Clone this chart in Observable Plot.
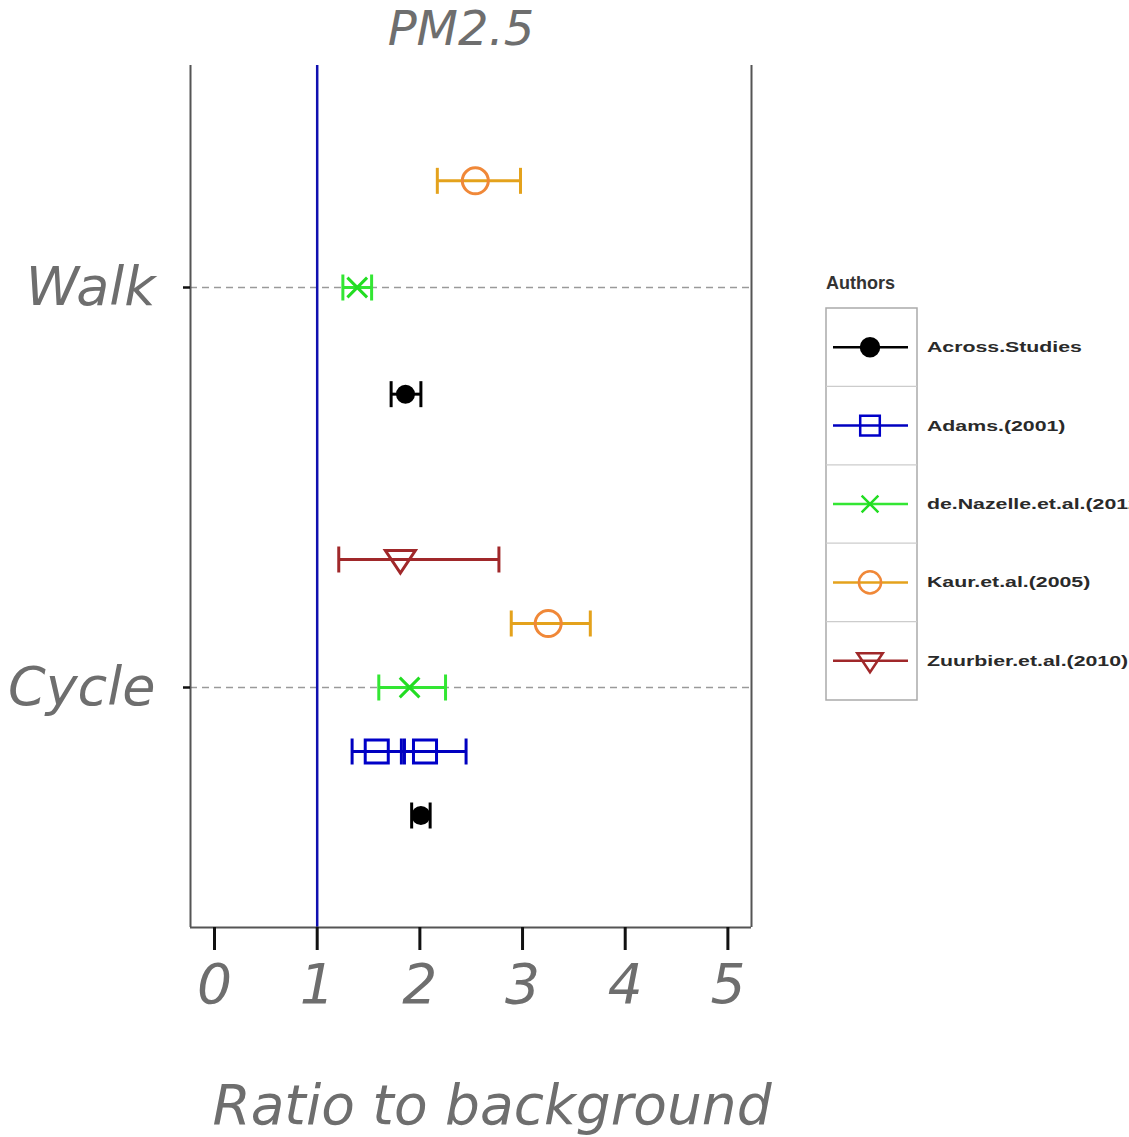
<!DOCTYPE html>
<html><head><meta charset="utf-8">
<script src="https://cdn.jsdelivr.net/npm/d3@7"></script>
<script src="https://cdn.jsdelivr.net/npm/@observablehq/plot@0.6"></script>
<style>
body{margin:0;background:#fff;overflow:hidden}
#wrap{position:relative;width:1129px;height:1137px;overflow:hidden}
#wrap svg{position:absolute;left:0;top:0;overflow:visible}
</style></head><body><div id="wrap"></div>
<script>
// ---- data ----
const modes = ["Walk", "Cycle"];
const modeValues = [2, 1];
const authors = ["Across.Studies", "Adams.(2001)", "de.Nazelle.et.al.(2012)", "Kaur.et.al.(2005)", "Zuurbier.et.al.(2010)"];
const authorLineColors = ["#000000", "#0000c0", "#33e633", "#e4a21c", "#a0282a"];
const authorMarkerColors = ["#000000", "#0000c8", "#22dd22", "#f08838", "#a0282a"];

const pointMode   = ["Walk", "Walk", "Walk", "Cycle", "Cycle", "Cycle", "Cycle", "Cycle", "Cycle"];
const pointAuthor = ["Kaur.et.al.(2005)", "de.Nazelle.et.al.(2012)", "Across.Studies",
                     "Zuurbier.et.al.(2010)", "Kaur.et.al.(2005)", "de.Nazelle.et.al.(2012)", "Adams.(2001)", "Adams.(2001)", "Across.Studies"];
const ratio = [2.54, 1.39, 1.86, 1.81, 3.25, 1.90, 1.58, 2.05, 2.01];
const lower = [2.17, 1.25, 1.72, 1.21, 2.89, 1.60, 1.34, 1.82, 1.92];
const upper = [2.98, 1.53, 2.01, 2.77, 3.66, 2.25, 1.85, 2.45, 2.10];

const xTicks = [0, 1, 2, 3, 4, 5];
const xTickLabels = ["0", "1", "2", "3", "4", "5"];
const xDomain = [-0.234, 5.23];
const yDomain = [0.4, 2.555];
const dodgeWidth = 0.8;

// ---- build table with dodge positions ----
const rows = ratio.map((r, i) => ({mode: pointMode[i], author: pointAuthor[i], ratio: r, lower: lower[i], upper: upper[i]}));
for (const m of modes) {
  const groupAuthors = authors.filter(a => rows.some(d => d.mode === m && d.author === a));
  const n = groupAuthors.length;
  const base = modeValues[modes.indexOf(m)];
  rows.filter(d => d.mode === m).forEach(d => {
    const k = groupAuthors.indexOf(d.author);
    d.pos = base + (k - (n - 1) / 2) * dodgeWidth / n;
  });
}
const lineColor = a => authorLineColors[authors.indexOf(a)];
const markerColor = a => authorMarkerColors[authors.indexOf(a)];

// ---- custom symbols ----
const vbar = {draw(ctx, size) { const h = Math.sqrt(size / Math.PI); ctx.moveTo(0, -h); ctx.lineTo(0, h); }};
const triDown = {draw(ctx, size) { const r = Math.sqrt(size / Math.PI); ctx.moveTo(-r, -0.6 * r); ctx.lineTo(r, -0.6 * r); ctx.lineTo(0, 0.9 * r); ctx.closePath(); }};
const markerSpec = {
  "Across.Studies": {symbol: "circle", r: 8, filled: true},
  "Adams.(2001)": {symbol: "square", r: 13, filled: false},
  "de.Nazelle.et.al.(2012)": {symbol: "times", r: 9, filled: false},
  "Kaur.et.al.(2005)": {symbol: "circle", r: 13, filled: false},
  "Zuurbier.et.al.(2010)": {symbol: triDown, r: 15, filled: false}
};

const textFont = "'DejaVu Sans', Verdana, sans-serif";
const gray = "#6e6e6e";

const marks = [
  Plot.ruleY(modeValues, {stroke: "#9a9a9a", strokeWidth: 1.5, strokeDasharray: "7,5"}),
  Plot.ruleX([1], {stroke: "#1010b0", strokeWidth: 2.5}),
  Plot.ruleX(xDomain, {stroke: "#555", strokeWidth: 2}),
  Plot.ruleY([yDomain[0]], {stroke: "#555", strokeWidth: 2}),
  Plot.axisX({ticks: xTicks, tickSize: 23, tickPadding: 13, stroke: "#111", strokeWidth: 3,
    tickFormat: v => xTickLabels[xTicks.indexOf(v)],
    fill: gray, fontSize: 55, fontStyle: "italic", fontFamily: textFont, label: null}),
  Plot.axisY({ticks: modeValues, tickSize: 7, tickPadding: 28, stroke: "#111", strokeWidth: 2.5,
    tickFormat: v => modes[modeValues.indexOf(v)], fill: gray, fontSize: 54, fontStyle: "italic", fontFamily: textFont, label: null}),
];
for (const a of authors) {
  const data = rows.filter(d => d.author === a);
  const spec = markerSpec[a];
  marks.push(
    Plot.ruleY(data, {y: "pos", x1: "lower", x2: "upper", stroke: lineColor(a), strokeWidth: 3}),
    Plot.dot(data, {x: "lower", y: "pos", symbol: vbar, r: 13, stroke: lineColor(a), strokeWidth: 3}),
    Plot.dot(data, {x: "upper", y: "pos", symbol: vbar, r: 13, stroke: lineColor(a), strokeWidth: 3}),
    Plot.dot(data, {x: "ratio", y: "pos", symbol: spec.symbol, r: spec.r, stroke: markerColor(a), strokeWidth: 3,
      fill: spec.filled ? markerColor(a) : "none"})
  );
}

const chart = Plot.plot({
  width: 1129, height: 1137,
  marginLeft: 190, marginRight: 378, marginTop: 65, marginBottom: 210,
  x: {domain: xDomain},
  y: {domain: yDomain},
  style: {fontFamily: textFont, background: "white"},
  marks
});
document.getElementById("wrap").appendChild(chart);

// titles
const svg = d3.select(chart);
svg.append("text").attr("x", 461).attr("y", 45).attr("text-anchor", "middle")
  .attr("font-family", textFont).attr("font-style", "italic").attr("font-size", 48).attr("fill", gray).text("PM2.5");
svg.append("text").attr("x", 492).attr("y", 1124).attr("text-anchor", "middle")
  .attr("font-family", textFont).attr("font-style", "italic").attr("font-size", 55).attr("fill", gray).text("Ratio to background");

// legend
const lg = d3.select("#wrap").append("svg").attr("width", 1129).attr("height", 1137).style("pointer-events", "none");
lg.append("text").attr("x", 826).attr("y", 289).attr("font-family", "'Liberation Sans', Arial, sans-serif")
  .attr("font-weight", "bold").attr("font-size", 18).attr("fill", "#333").text("Authors");
const boxTop = 308, rowH = 78.4, boxL = 826, boxW = 91;
lg.append("rect").attr("x", boxL).attr("y", boxTop).attr("width", boxW).attr("height", rowH * authors.length)
  .attr("fill", "white").attr("stroke", "#aaa").attr("stroke-width", 1.5);
authors.forEach((a, i) => {
  const cy = boxTop + rowH * (i + 0.5);
  if (i > 0) lg.append("line").attr("x1", boxL).attr("x2", boxL + boxW).attr("y1", boxTop + rowH * i).attr("y2", boxTop + rowH * i)
    .attr("stroke", "#ccc").attr("stroke-width", 1.2);
  lg.append("line").attr("x1", 833).attr("x2", 908).attr("y1", cy).attr("y2", cy).attr("stroke", lineColor(a)).attr("stroke-width", 2.5);
  const spec = markerSpec[a];
  const symType = spec.symbol === "circle" ? d3.symbolCircle : spec.symbol === "square" ? d3.symbolSquare :
    spec.symbol === "times" ? d3.symbolTimes : spec.symbol;
  const rr = spec.filled ? 9 : spec.r * 0.85;
  lg.append("path").attr("transform", `translate(870,${cy})`)
    .attr("d", d3.symbol(symType, Math.PI * rr * rr)())
    .attr("fill", spec.filled ? markerColor(a) : "none").attr("stroke", markerColor(a)).attr("stroke-width", 2.5);
  lg.append("text").attr("transform", `translate(927,${cy + 5}) scale(1.42,1)`)
    .attr("font-family", "'Liberation Sans', Arial, sans-serif").attr("font-weight", "bold").attr("font-size", 15)
    .attr("fill", "#2a2a2a").text(a);
});
</script></body></html>
